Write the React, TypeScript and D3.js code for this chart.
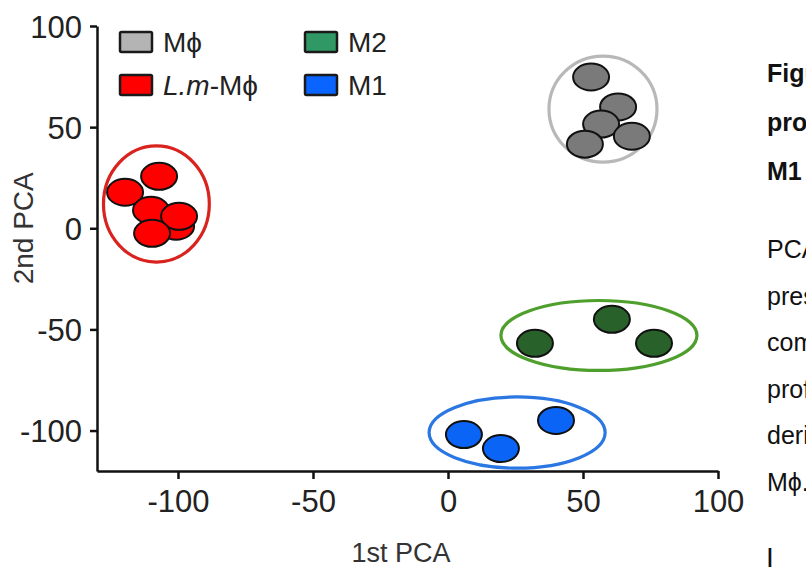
import { useEffect, useRef } from 'react'
import * as d3 from 'd3'

// group labels + legend
const groups = ['Mϕ', 'L.m-Mϕ', 'M2', 'M1']
const pointFill = ['#7a7a7a', '#ff0000', '#28622a', '#0a64f5']
const ringColor = ['#b8b8b8', '#d8231e', '#4e9f2c', '#2a76e2']
const legendFill = ['#b4b4b4', '#ff0000', '#2f9864', '#0a64ff']

// samples per group (1st PCA, 2nd PCA), listed in drawing order
const mphiX = [53, 63, 56.7, 68.1, 50.7]
const mphiY = [74.8, 60, 51.5, 45.5, 41.6]
const lmX = [-107, -119.6, -100.7, -110, -99.6, -109.6]
const lmY = [25.7, 17.8, 1, 8.9, 5.9, -2.5]
const m2X = [32.2, 60.7, 76.3]
const m2Y = [-56.9, -45, -56.9]
const m1X = [5.9, 19.6, 40]
const m1Y = [-102, -108.9, -95]

// cluster rings: centre and radii in PCA units
const ringCx = [57.4, -108, 55.9, 25.6]
const ringCy = [58.9, 12, -53, -101]
const ringRx = [20, 19.6, 36.3, 32.6]
const ringRy = [26.2, 28.7, 17.3, 17.6]

const xTicks = [-100, -50, 0, 50, 100]
const yTicks = [-100, -50, 0, 50, 100]

const sideBold = ['Figure', 'profiles', 'M1']
const sideText = ['PCA', 'presented', 'components', 'profiles', 'derived', 'Mϕ.']

const FONT = '"Liberation Sans", Arial, sans-serif'

export default function App() {
  const svgRef = useRef<SVGSVGElement>(null)

  useEffect(() => {
    if (!svgRef.current) return
    const svg = d3.select(svgRef.current)
    svg.selectAll('*').remove()

    const x = d3.scaleLinear().domain([-130, 100]).range([97, 718])
    const y = d3.scaleLinear().domain([-120, 100]).range([471, 26])
    const fmt = (d: any) => String(d)

    // axes
    const gx = svg.append('g').attr('transform', `translate(0,${y(-120)})`)
      .call(d3.axisBottom(x).tickValues(xTicks).tickFormat(fmt).tickSize(8).tickSizeOuter(0).tickPadding(11))
    const gy = svg.append('g').attr('transform', `translate(${x(-130)},0)`)
      .call(d3.axisLeft(y).tickValues(yTicks).tickFormat(fmt).tickSize(7).tickSizeOuter(0).tickPadding(8))
    ;[gx, gy].forEach((g) => {
      g.select('.domain').attr('stroke', '#111').attr('stroke-width', 2.5)
      g.selectAll('.tick line').attr('stroke', '#111').attr('stroke-width', 2.5)
      g.selectAll('.tick text').attr('fill', '#222').attr('font-size', 31).attr('font-family', FONT)
    })
    gy.selectAll('.tick text').attr('dy', '0.36em')

    svg.append('text').attr('transform', `translate(33,${y(0)}) rotate(-90)`).attr('text-anchor', 'middle')
      .attr('font-family', FONT).attr('font-size', 28).attr('fill', '#333').text('2nd PCA')
    svg.append('text').attr('x', 401).attr('y', 562).attr('text-anchor', 'middle')
      .attr('font-family', FONT).attr('font-size', 27).attr('fill', '#333').text('1st PCA')

    // rings
    groups.forEach((_, i) => {
      svg.append('ellipse')
        .attr('cx', x(ringCx[i])).attr('cy', y(ringCy[i]))
        .attr('rx', x(ringRx[i]) - x(0)).attr('ry', y(0) - y(ringRy[i]))
        .attr('fill', 'none').attr('stroke', ringColor[i]).attr('stroke-width', 3.2)
    })

    // points
    const sets = [[mphiX, mphiY], [lmX, lmY], [m2X, m2Y], [m1X, m1Y]]
    sets.forEach(([xs, ys], i) => {
      svg.append('g').selectAll('ellipse').data(xs).join('ellipse')
        .attr('cx', (d) => x(d)).attr('cy', (_, j) => y(ys[j]))
        .attr('rx', 18).attr('ry', 13.5)
        .attr('fill', pointFill[i]).attr('stroke', '#111').attr('stroke-width', 2)
    })

    // legend 2x2
    const legPos = [[120, 42], [120, 85], [305, 42], [305, 85]]
    groups.forEach((g, i) => {
      const [lx, ly] = legPos[i]
      svg.append('rect').attr('x', lx).attr('y', ly - 10).attr('width', 32).attr('height', 20).attr('rx', 1.5)
        .attr('fill', legendFill[i]).attr('stroke', '#1a1a1a').attr('stroke-width', 2.5)
      const t = svg.append('text').attr('x', lx + 43).attr('y', ly + 10)
        .attr('font-family', FONT).attr('font-size', 28).attr('fill', '#222')
      if (g.startsWith('L.m')) {
        t.append('tspan').attr('font-style', 'italic').text('L.m')
        t.append('tspan').text('-Mϕ')
      } else t.text(g)
    })

    // neighbouring caption text, clipped by the page edge
    sideBold.forEach((s, i) => {
      svg.append('text').attr('x', 767).attr('y', 82 + i * 49).attr('font-family', FONT)
        .attr('font-size', 25).attr('font-weight', 700).attr('fill', '#111').text(s)
    })
    sideText.forEach((s, i) => {
      svg.append('text').attr('x', 767).attr('y', 258 + i * 46.6).attr('font-family', FONT)
        .attr('font-size', 25).attr('fill', '#111').text(s)
    })
    svg.append('text').attr('x', 766).attr('y', 567).attr('font-family', FONT)
      .attr('font-size', 28).attr('fill', '#111').text('I')
  }, [])

  return (
    <svg ref={svgRef} width={806} height={568}
      style={{ position: 'fixed', left: 0, top: 0, background: '#fff', display: 'block' }} />
  )
}
